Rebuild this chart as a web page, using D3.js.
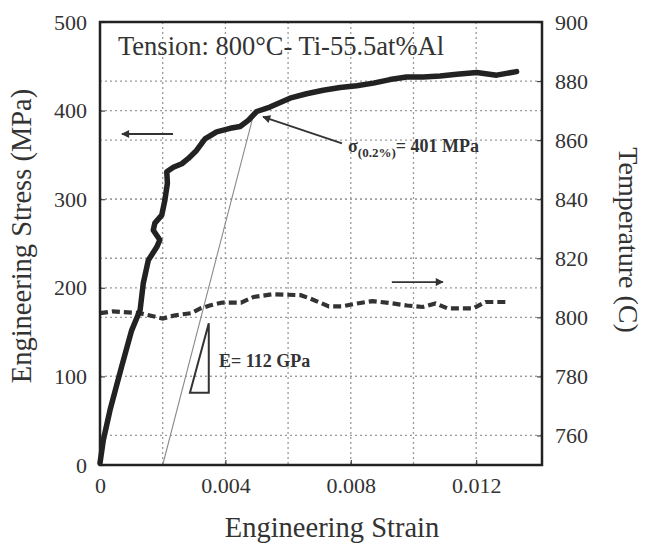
<!DOCTYPE html>
<html>
<head>
<meta charset="utf-8">
<script src="https://cdn.jsdelivr.net/npm/d3@7"></script>
<style>
  html, body { margin: 0; padding: 0; background: #fff; }
  svg { display: block; }
  text { font-family: "Liberation Serif", "Times New Roman", serif; fill: #333; }
</style>
</head>
<body>
<svg id="chart" width="655" height="545"></svg>
<script>
// ---- data ----
const stressStrain = [0, 0.000106, 0.00032, 0.00069, 0.00101, 0.00128, 0.00138, 0.00154, 0.00181, 0.00191, 0.0017, 0.00175, 0.00197, 0.00207, 0.00215, 0.00213, 0.00234, 0.00261, 0.00282, 0.00308, 0.00335, 0.00372, 0.00415, 0.00447, 0.00473, 0.005, 0.00542, 0.00606, 0.00659, 0.00712, 0.00766, 0.00819, 0.00872, 0.00925, 0.00978, 0.01031, 0.01085, 0.01138, 0.01202, 0.01265, 0.01329];
const stressValues = [2, 28, 62, 111, 152, 175, 205, 231, 246, 254, 265, 273, 282, 299, 318, 331, 336, 340, 346, 355, 368, 376, 380, 382, 389, 399, 404, 414, 419, 423, 426, 428, 431, 435, 438, 438, 439, 441, 443, 440, 444];

const tempStrain = [0, 0.0004, 0.0007, 0.00127, 0.0018, 0.002, 0.0024, 0.0029, 0.0032, 0.0035, 0.0039, 0.0045, 0.0049, 0.0055, 0.0064, 0.0067, 0.0073, 0.0077, 0.0082, 0.0087, 0.0092, 0.0098, 0.0103, 0.0107, 0.0111, 0.0119, 0.0123, 0.0130];
const tempValues = [801.4, 802, 801.8, 801.4, 800.1, 799.6, 800.7, 801.4, 803, 804, 805, 805, 806.9, 807.8, 807.5, 806.4, 803.7, 803.7, 804.7, 805.5, 804.9, 804, 803.5, 804.7, 803, 803, 805.2, 805.2];

const modulusLineStrain = [0.002, 0.00488];
const modulusLineStress = [0, 393];

const xTickValues = [0, 0.004, 0.008, 0.012];
const xTickLabels = ["0", "0.004", "0.008", "0.012"];
const xGridValues = [0.002, 0.004, 0.006, 0.008, 0.010, 0.012];
const stressTicks = [0, 100, 200, 300, 400, 500];
const stressGrid = [100, 200, 300, 400];
const tempTicks = [760, 780, 800, 820, 840, 860, 880, 900];
const tempGrid = [760, 780, 800, 820, 840, 860, 880];

const titleText = "Tension: 800°C- Ti-55.5at%Al";
const xLabel = "Engineering Strain";
const yLabel = "Engineering Stress (MPa)";
const y2Label = "Temperature (C)";

// ---- layout ----
const L = 100, R = 542, T = 22, B = 465;
const svg = d3.select("#chart");

const x = d3.scaleLinear().domain([0, 0.0141]).range([L, R]);
const y = d3.scaleLinear().domain([0, 500]).range([B, T]);
const yT = d3.scaleLinear().domain([750, 900]).range([B, T]);

// defs: arrowhead
const defs = svg.append("defs");
defs.append("marker").attr("id", "ah").attr("viewBox", "0 0 10 10")
  .attr("refX", 9).attr("refY", 5).attr("markerWidth", 12).attr("markerHeight", 8)
  .attr("markerUnits", "userSpaceOnUse").attr("orient", "auto")
  .append("path").attr("d", "M0,0 L10,5 L0,10 Z").attr("fill", "#333");

// gridlines
const grid = svg.append("g").attr("stroke", "#9a9a9a").attr("stroke-width", 1.3)
  .attr("stroke-dasharray", "2,3").attr("fill", "none");
grid.selectAll("line.vx").data(xGridValues).join("line")
  .attr("x1", d => x(d)).attr("x2", d => x(d)).attr("y1", T).attr("y2", B);
grid.selectAll("line.hy").data(stressGrid).join("line")
  .attr("x1", L).attr("x2", R).attr("y1", d => y(d)).attr("y2", d => y(d));
grid.selectAll("line.ht").data(tempGrid).join("line")
  .attr("x1", L).attr("x2", R).attr("y1", d => yT(d)).attr("y2", d => yT(d));

// axes
const fontTick = "22px";
const gx = svg.append("g").attr("transform", `translate(0,${B})`)
  .call(d3.axisBottom(x).tickValues(xTickValues).tickSizeInner(-5).tickSizeOuter(0).tickPadding(12)
    .tickFormat((d, i) => xTickLabels[i]));
const gy = svg.append("g").attr("transform", `translate(${L},0)`)
  .call(d3.axisLeft(y).tickValues(stressTicks).tickSizeInner(-5).tickSizeOuter(0).tickPadding(13));
const gy2 = svg.append("g").attr("transform", `translate(${R},0)`)
  .call(d3.axisRight(yT).tickValues(tempTicks).tickSizeInner(-5).tickSizeOuter(0).tickPadding(13));
[gx, gy, gy2].forEach(g => {
  g.select(".domain").remove();
  g.selectAll(".tick line").attr("stroke", "#444").attr("stroke-width", 1.2);
  g.selectAll(".tick text").style("font-family", "'Liberation Serif', serif")
    .style("font-size", fontTick).attr("fill", "#3a3a3a");
});

// modulus (offset) line
svg.append("line")
  .attr("x1", x(modulusLineStrain[0])).attr("y1", y(modulusLineStress[0]))
  .attr("x2", x(modulusLineStrain[1])).attr("y2", y(modulusLineStress[1]))
  .attr("stroke", "#8a8a8a").attr("stroke-width", 1.1);

// temperature curve (dashed)
const tempData = tempStrain.map((s, i) => [s, tempValues[i]]);
svg.append("path").datum(tempData)
  .attr("d", d3.line().x(d => x(d[0])).y(d => yT(d[1])))
  .attr("fill", "none").attr("stroke", "#333").attr("stroke-width", 4.2)
  .attr("stroke-dasharray", "8,4");

// stress curve
const stressData = stressStrain.map((s, i) => [s, stressValues[i]]);
svg.append("path").datum(stressData)
  .attr("d", d3.line().x(d => x(d[0])).y(d => y(d[1])))
  .attr("fill", "none").attr("stroke", "#222").attr("stroke-width", 5.5)
  .attr("stroke-linejoin", "round").attr("stroke-linecap", "round");

// slope triangle
const tri = [[0.00287, 81.6], [0.00347, 81.6], [0.00347, 160]];
svg.append("path")
  .attr("d", "M" + tri.map(p => [x(p[0]), y(p[1])].join(",")).join("L") + "Z")
  .attr("fill", "none").attr("stroke", "#333").attr("stroke-width", 2);

// frame
svg.append("rect").attr("x", L).attr("y", T).attr("width", R - L).attr("height", B - T)
  .attr("fill", "none").attr("stroke", "#222").attr("stroke-width", 2.5);

// arrows
svg.append("line").attr("x1", x(0.00233)).attr("y1", y(373.6)).attr("x2", x(0.00070)).attr("y2", y(373.6))
  .attr("stroke", "#333").attr("stroke-width", 1.8).attr("marker-end", "url(#ah)");
svg.append("line").attr("x1", x(0.00931)).attr("y1", y(206.5)).attr("x2", x(0.01094)).attr("y2", y(206.5))
  .attr("stroke", "#333").attr("stroke-width", 1.8).attr("marker-end", "url(#ah)");
svg.append("line").attr("x1", x(0.00772)).attr("y1", y(363)).attr("x2", x(0.0052)).attr("y2", y(393))
  .attr("stroke", "#333").attr("stroke-width", 1.8).attr("marker-end", "url(#ah)");

// annotations
svg.append("text").attr("x", 118).attr("y", 55).style("font-size", "26.5px").text(titleText);

const sig = svg.append("text").attr("x", 348).attr("y", 152)
  .style("font-size", "18px").style("font-weight", "bold");
sig.append("tspan").text("σ");
sig.append("tspan").attr("dy", 5).style("font-size", "13px").text("(0.2%)");
sig.append("tspan").attr("dy", -5).text("= 401 MPa");

svg.append("text").attr("x", 219).attr("y", 367).style("font-size", "18px")
  .style("font-weight", "bold").text("E= 112 GPa");

// axis titles
svg.append("text").attr("x", (L + R) / 2 + 11).attr("y", 537).attr("text-anchor", "middle")
  .style("font-size", "28.5px").text(xLabel);
svg.append("text").attr("transform", "translate(31,236) rotate(-90)").attr("text-anchor", "middle")
  .style("font-size", "28.5px").text(yLabel);
svg.append("text").attr("transform", "translate(619,240) rotate(90)").attr("text-anchor", "middle")
  .style("font-size", "28px").text(y2Label);
</script>
</body>
</html>
